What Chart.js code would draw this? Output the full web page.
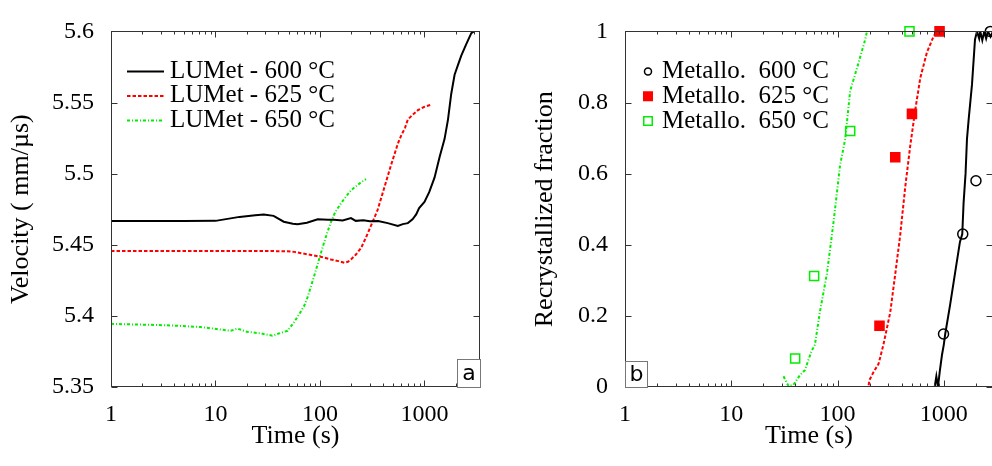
<!DOCTYPE html>
<html>
<head>
<meta charset="utf-8">
<script src="https://cdn.jsdelivr.net/npm/chart.js@4.4.1/dist/chart.umd.min.js"></script>
<style>
  html, body { margin: 0; padding: 0; background: #fff; overflow: hidden; }
  #wrap { position: relative; width: 992px; height: 466px; overflow: hidden; }
  canvas { position: absolute; top: 0; }
  #chartA { left: 0; }
  #chartB { left: 496px; }
</style>
</head>
<body>
<div id="wrap">
  <canvas id="chartA" width="496" height="466"></canvas>
  <canvas id="chartB" width="504" height="466"></canvas>
</div>
<script>
// ---- panel a : ultrasonic velocity vs time ----
const velTicks = [5.35, 5.4, 5.45, 5.5, 5.55, 5.6];
const timeTicks = [1, 10, 100, 1000];

const velT600 = [1, 5, 10, 17, 24, 29, 36, 45, 55, 61, 75, 95, 120, 136, 165, 198, 220, 260, 300, 360, 445, 556, 620, 693, 769, 833, 889, 1000, 1110, 1248, 1400, 1556, 1679, 1803, 1942, 2090, 2250, 2512, 2807, 2980];
const vel600 = [5.4667, 5.4667, 5.4668, 5.4696, 5.4708, 5.4713, 5.4703, 5.4662, 5.4648, 5.4645, 5.4655, 5.4679, 5.4675, 5.4676, 5.4670, 5.4688, 5.4668, 5.4672, 5.4665, 5.4667, 5.4652, 5.4632, 5.4645, 5.4652, 5.4679, 5.4713, 5.4758, 5.4801, 5.4870, 5.4972, 5.5120, 5.5243, 5.5380, 5.5560, 5.5695, 5.5763, 5.5830, 5.5910, 5.5988, 5.6000];

const velT625 = [1, 20, 40, 49, 57, 66, 80, 95, 110, 127, 150, 171, 185, 198, 220, 247, 275, 308, 357, 414, 480, 556, 597, 650, 692, 760, 864, 1000, 1159];
const vel625 = [5.4457, 5.4457, 5.4455, 5.4455, 5.4450, 5.4441, 5.4430, 5.4419, 5.4410, 5.4397, 5.4385, 5.4374, 5.4380, 5.4397, 5.4430, 5.4476, 5.4550, 5.4634, 5.4747, 5.4905, 5.5063, 5.5210, 5.5266, 5.5320, 5.5379, 5.5410, 5.5446, 5.5470, 5.5485];

const velT650 = [1, 3.4, 7.2, 14, 16.2, 20, 27, 35, 42, 49, 56.5, 63, 70.5, 76, 81.8, 88, 95, 102, 110, 118, 127, 140, 159, 178, 198, 220, 247, 276];
const vel650 = [5.3944, 5.3934, 5.3922, 5.3895, 5.3911, 5.3888, 5.3877, 5.3861, 5.3880, 5.3895, 5.3956, 5.4010, 5.4069, 5.4130, 5.4205, 5.4280, 5.4363, 5.4440, 5.4521, 5.4590, 5.4657, 5.4730, 5.4792, 5.4840, 5.4883, 5.4910, 5.4939, 5.4961];

// ---- panel b : recrystallized fraction vs time ----
const fracTicks = [0, 0.2, 0.4, 0.6, 0.8, 1];

const recT600 = [820, 850, 880, 918, 960, 1000, 1030, 1141, 1271, 1417, 1490, 1533, 1600, 1650, 1710, 1840, 1963, 2050, 2150, 2200, 2300, 2400, 2500, 2600, 2750, 2900];
const rec600 = [0, 0.03, 0.0, 0.047, 0.09, 0.12, 0.149, 0.228, 0.318, 0.408, 0.43, 0.517, 0.60, 0.697, 0.751, 0.851, 0.977, 1.0, 0.98, 1.0, 0.975, 1.0, 0.98, 1.0, 0.985, 1.0];

const recT625 = [196, 200, 218, 243, 270, 313, 349, 388, 433, 483, 538, 600, 693, 800, 861];
const rec625 = [0.005, 0.02, 0.042, 0.065, 0.119, 0.21, 0.318, 0.426, 0.562, 0.679, 0.779, 0.869, 0.941, 0.986, 1.0];

const recT650 = [31, 34.5, 38.4, 44.2, 49.2, 56.9, 61.2, 68.1, 79.3, 91.5, 105.7, 118, 131.4, 152, 182, 189];
const rec650 = [0.03, 0.003, 0.006, 0.033, 0.047, 0.101, 0.119, 0.21, 0.318, 0.462, 0.625, 0.697, 0.833, 0.896, 0.977, 1.0];

const metT600 = [993, 1506, 2005, 2735];
const met600 = [0.149, 0.43, 0.58, 1.0];
const metT625 = [248, 349, 501, 911];
const met625 = [0.172, 0.646, 0.768, 1.0];
const metT650 = [39.9, 60.2, 131.5, 475];
const met650 = [0.080, 0.312, 0.72, 1.0];

const RED = '#ff0000';
const GREEN = '#00ee00';

Chart.defaults.font.family = "'Liberation Serif', 'Times New Roman', serif";
Chart.defaults.color = '#000';

function pts(xs, ys) {
  return xs.map((x, i) => ({ x: x, y: ys[i] }));
}

// frame + inward ticks on all four sides, from the scales
const frameTicks = {
  id: 'frameTicks',
  afterDatasetsDraw(chart) {
    const { ctx, chartArea: a, scales: { x, y } } = chart;
    const L = Math.round(a.left) + 0.5, R = Math.round(a.right) - 0.5;
    const T = Math.round(a.top) + 0.5, B = Math.round(a.bottom) - 0.5;
    ctx.save();
    ctx.strokeStyle = '#333';
    ctx.lineWidth = 1;
    ctx.beginPath();
    const e0 = Math.floor(Math.log10(x.min)), e1 = Math.floor(Math.log10(x.max));
    for (let e = e0; e <= e1; e++) {
      for (let s = 1; s <= 9; s++) {
        const v = s * Math.pow(10, e);
        if (v < x.min || v > x.max) continue;
        const px = Math.round(x.getPixelForValue(v)) + 0.5;
        const len = s === 1 ? 6 : 3;
        ctx.moveTo(px, B); ctx.lineTo(px, B - len);
        ctx.moveTo(px, T); ctx.lineTo(px, T + len);
      }
    }
    y.ticks.forEach(t => {
      const py = Math.round(y.getPixelForValue(t.value)) + 0.5;
      ctx.moveTo(L, py); ctx.lineTo(L + 6, py);
      ctx.moveTo(R, py); ctx.lineTo(R - 6, py);
    });
    ctx.stroke();
    ctx.strokeRect(L, T, R - L, B - T);
    ctx.restore();
  }
};

// legend drawn inside the plot, top-left
const boxLegend = {
  id: 'boxLegend',
  afterDraw(chart, args, opts) {
    const { ctx, chartArea: a } = chart;
    ctx.save();
    ctx.font = '25px ' + Chart.defaults.font.family;
    ctx.textBaseline = 'middle';
    opts.items.forEach((idx, i) => {
      const ds = chart.data.datasets[idx];
      const y = a.top + opts.top + i * opts.step;
      const x0 = a.left + opts.left;
      if (opts.radii) {
        ctx.strokeStyle = ds.pointBorderColor;
        ctx.fillStyle = ds.pointBackgroundColor;
        ctx.lineWidth = ds.pointBorderWidth;
        Chart.helpers.drawPoint(ctx, { pointStyle: ds.pointStyle, rotation: 0, radius: opts.radii[i], borderWidth: ds.pointBorderWidth }, x0, y);
      } else {
        ctx.strokeStyle = ds.borderColor;
        ctx.lineWidth = ds.borderWidth;
        ctx.setLineDash(ds.borderDash || []);
        ctx.beginPath();
        ctx.moveTo(x0, y);
        ctx.lineTo(x0 + opts.sample, y);
        ctx.stroke();
        ctx.setLineDash([]);
      }
      ctx.fillStyle = '#000';
      ctx.fillText(ds.label, a.left + opts.textLeft, y);
    });
    ctx.restore();
  }
};

// small boxed panel letter
const panelTag = {
  id: 'panelTag',
  afterDraw(chart, args, opts) {
    const { ctx, chartArea: a } = chart;
    const x = opts.corner === 'br' ? Math.round(a.right) - opts.w : Math.round(a.left);
    const y = Math.round(a.bottom) - opts.h;
    ctx.save();
    ctx.fillStyle = '#fff';
    ctx.fillRect(x, y, opts.w, opts.h);
    ctx.strokeStyle = '#777';
    ctx.lineWidth = 1;
    ctx.strokeRect(x + 0.5, y + 0.5, opts.w, opts.h);
    ctx.fillStyle = '#000';
    ctx.font = '22px "DejaVu Sans"';
    ctx.textAlign = 'center';
    ctx.textBaseline = 'middle';
    ctx.fillText(opts.text, x + opts.w / 2 + 0.5, y + opts.h / 2 + 1);
    ctx.restore();
  }
};

function scalesFor(yTicks, yMin, yMax, xMax, yWidth, yTitle, yTitlePad) {
  return {
    x: {
      type: 'logarithmic',
      min: 1,
      max: xMax,
      grid: { display: false, drawTicks: false },
      border: { display: false },
      afterBuildTicks: s => { s.ticks = timeTicks.map(v => ({ value: v })); },
      afterFit: s => { s.height = 79; },
      ticks: { autoSkip: false, maxRotation: 0, padding: 13, font: { size: 24 }, callback: v => String(v) },
      title: { display: true, text: 'Time (s)', font: { size: 26 }, padding: { top: 0, bottom: 14 } }
    },
    y: {
      min: yMin,
      max: yMax,
      grid: { display: false, drawTicks: false },
      border: { display: false },
      afterBuildTicks: s => { s.ticks = yTicks.map(v => ({ value: v })); },
      afterFit: s => { s.width = yWidth; },
      ticks: { padding: 17, font: { size: 24 }, callback: v => String(v) },
      title: { display: true, text: yTitle, font: { size: 26 }, padding: { top: yTitlePad, bottom: 0 } }
    }
  };
}

function lineSet(label, data, color, dash) {
  return { label: label, data: data, showLine: true, borderColor: color, backgroundColor: color,
    borderWidth: 2, borderDash: dash, pointRadius: 0, pointHoverRadius: 0 };
}

function markSet(label, data, color, fill, style, r) {
  return { label: label, data: data, showLine: false, pointStyle: style, pointRadius: r,
    borderColor: color, backgroundColor: fill, pointBorderWidth: 1.5, borderWidth: 1.5,
    pointBackgroundColor: fill, pointBorderColor: color, clip: false };
}

const baseOpts = {
  responsive: false,
  animation: false,
  events: [],
  plugins: { legend: { display: false }, tooltip: { enabled: false } }
};

new Chart(document.getElementById('chartA'), {
  type: 'scatter',
  data: {
    datasets: [
      lineSet('LUMet - 600 °C', pts(velT600, vel600), '#000', []),
      lineSet('LUMet - 625 °C', pts(velT625, vel625), RED, [3.5, 2]),
      lineSet('LUMet - 650 °C', pts(velT650, vel650), GREEN, [3, 2, 1, 2])
    ]
  },
  options: {
    ...baseOpts,
    layout: { autoPadding: false, padding: { left: 0, top: 18, right: 16, bottom: 0 } },
    scales: scalesFor(velTicks, 5.35, 5.6, 3400, 111, 'Velocity ( mm/µs)', 6),
    plugins: {
      ...baseOpts.plugins,
      boxLegend: { items: [0, 1, 2], left: 16, sample: 37, textLeft: 59, top: 40, step: 24.5 },
      panelTag: { text: 'a', corner: 'br', w: 23, h: 28 }
    }
  },
  plugins: [frameTicks, boxLegend, panelTag]
});

new Chart(document.getElementById('chartB'), {
  type: 'scatter',
  data: {
    datasets: [
      lineSet('LUMet 650', pts(recT650, rec650), GREEN, [3, 2, 1, 2]),
      lineSet('LUMet 625', pts(recT625, rec625), RED, [3.5, 2]),
      lineSet('LUMet 600', pts(recT600, rec600), '#000', []),
      markSet('Metallo.  600 °C', pts(metT600, met600), '#000', 'rgba(0,0,0,0)', 'circle', 5),
      markSet('Metallo.  625 °C', pts(metT625, met625), RED, RED, 'rect', 6.4),
      markSet('Metallo.  650 °C', pts(metT650, met650), GREEN, 'rgba(0,0,0,0)', 'rect', 6.4)
    ]
  },
  options: {
    ...baseOpts,
    layout: { autoPadding: false, padding: { left: 0, top: 18, right: 7, bottom: 0 } },
    scales: scalesFor(fracTicks, 0, 1, 2900, 129, 'Recrystallized fraction', 34),
    plugins: {
      ...baseOpts.plugins,
      boxLegend: { items: [3, 4, 5], radii: [3.5, 6, 6], left: 23, textLeft: 37, top: 40, step: 24.8 },
      panelTag: { text: 'b', corner: 'bl', w: 22, h: 26 }
    }
  },
  plugins: [frameTicks, boxLegend, panelTag]
});
</script>
</body>
</html>
